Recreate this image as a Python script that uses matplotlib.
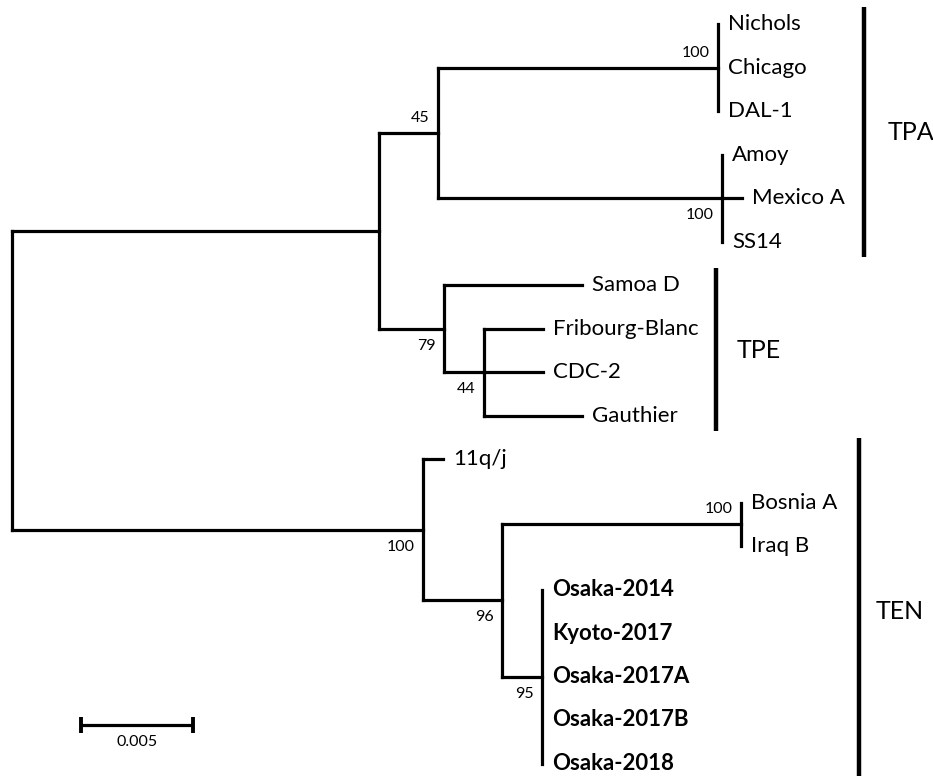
import matplotlib
matplotlib.use("Agg")
import matplotlib.pyplot as plt

plt.rcParams['font.family'] = ['Lato', 'DejaVu Sans']

# leaves, top to bottom
taxa = ["Nichols", "Chicago", "DAL-1", "Amoy", "Mexico A", "SS14",
        "Samoa D", "Fribourg-Blanc", "CDC-2", "Gauthier",
        "11q/j", "Bosnia A", "Iraq B",
        "Osaka-2014", "Kyoto-2017", "Osaka-2017A", "Osaka-2017B", "Osaka-2018"]
bold_taxa = ["Osaka-2014", "Kyoto-2017", "Osaka-2017A", "Osaka-2017B", "Osaka-2018"]

# edges of the tree: child, parent, branch length (substitutions/site)
edge_child = ["tpa_tpe", "tpa", "nichols_grp", "Nichols", "Chicago", "DAL-1",
              "ss14_grp", "Amoy", "Mexico A", "SS14",
              "tpe", "Samoa D", "tpe_sub", "Fribourg-Blanc", "CDC-2", "Gauthier",
              "ten", "11q/j", "ten_sub", "bosnia_grp", "Bosnia A", "Iraq B",
              "osaka_grp", "Osaka-2014", "Kyoto-2017", "Osaka-2017A", "Osaka-2017B", "Osaka-2018"]
edge_parent = ["root", "tpa_tpe", "tpa", "nichols_grp", "nichols_grp", "nichols_grp",
               "tpa", "ss14_grp", "ss14_grp", "ss14_grp",
               "tpa_tpe", "tpe", "tpe", "tpe_sub", "tpe_sub", "tpe_sub",
               "root", "ten", "ten", "ten_sub", "bosnia_grp", "bosnia_grp",
               "ten_sub", "osaka_grp", "osaka_grp", "osaka_grp", "osaka_grp", "osaka_grp"]
edge_length = [0.01638, 0.00263, 0.01250, 0.0, 0.0, 0.0,
               0.01268, 0.0, 0.00089, 0.0,
               0.00290, 0.00616, 0.00179, 0.00263, 0.00263, 0.00438,
               0.01835, 0.00089, 0.00353, 0.01067, 0.0, 0.0,
               0.00179, 0.0, 0.0, 0.0, 0.0, 0.0]

# bootstrap support
support_node = ["tpa", "nichols_grp", "ss14_grp", "tpe", "tpe_sub",
                "ten", "ten_sub", "bosnia_grp", "osaka_grp"]
support_value = [45, 100, 100, 79, 44, 100, 96, 100, 95]
support_above = [True, True, False, False, False, False, False, True, False]

# clades: name, first leaf, last leaf
clade_names = ["TPA", "TPE", "TEN"]
clade_first = ["Nichols", "Samoa D", "11q/j"]
clade_last = ["SS14", "Gauthier", "Osaka-2018"]

scale_length = 0.005

# ---- layout ----
px = 0.005 / 112          # distance units per pixel
fig = plt.figure(figsize=(9.33, 7.76), dpi=100)
ax = fig.add_axes([0, 0, 1, 1])
ax.set_xlim(-12 * px, (933 - 12) * px)
row = 43.5
ax.set_ylim((776 - 24) / row, -24 / row)
ax.axis('off')

lw = 2.3
children = {}
for c, p in zip(edge_child, edge_parent):
    children.setdefault(p, []).append(c)
blen = dict(zip(edge_child, edge_length))

xpos = {"root": 0.0}
def set_x(node):
    for c in children.get(node, []):
        xpos[c] = xpos[node] + blen[c]
        set_x(c)
set_x("root")

ypos = {t: i for i, t in enumerate(taxa)}
def set_y(node):
    if node in ypos:
        return ypos[node]
    ys = [set_y(c) for c in children[node]]
    ypos[node] = (min(ys) + max(ys)) / 2
    return ypos[node]
set_y("root")

# vertical lines at internal nodes
for node, kids in children.items():
    ys = [ypos[c] for c in kids]
    ax.plot([xpos[node], xpos[node]], [min(ys), max(ys)], color='black',
            lw=lw, solid_capstyle='projecting')
# horizontal branches
for c, p in zip(edge_child, edge_parent):
    if blen[c] > 0:
        ax.plot([xpos[p], xpos[c]], [ypos[c], ypos[c]], color='black',
                lw=lw, solid_capstyle='projecting')

# leaf labels
for t in taxa:
    ax.annotate(t, (xpos[t], ypos[t]), xytext=(10, 0), textcoords='offset pixels',
                ha='left', va='center', fontsize=16,
                fontweight='bold' if t in bold_taxa else 'normal')

# support values
for n, v, above in zip(support_node, support_value, support_above):
    ax.annotate(str(v), (xpos[n], ypos[n]), xytext=(-8, 15 if above else -17),
                textcoords='offset pixels', ha='right', va='center', fontsize=11.5)

# clade bars
bar_x = [852 * px, 704 * px, 847 * px]
label_gap = [24, 21, 17]
for name, a, b, bx, gap in zip(clade_names, clade_first, clade_last, bar_x, label_gap):
    y0 = ypos[a] - 0.38
    y1 = ypos[b] + 0.36 if name != "TEN" else ax.get_ylim()[0] + 0.2
    if name == "TEN":
        y0 = ypos[a] - 0.48
    ax.plot([bx, bx], [y0, y1], color='black', lw=3.2, solid_capstyle='butt')
    ax.annotate(name, (bx, (ypos[a] + ypos[b]) / 2), xytext=(gap, 0),
                textcoords='offset pixels', ha='left', va='center', fontsize=18)

# scale bar
sx0 = 69 * px
sy = (725 - 24) / row
ax.plot([sx0, sx0 + scale_length], [sy, sy], color='black', lw=lw, solid_capstyle='butt')
for sx in [sx0, sx0 + scale_length]:
    ax.plot([sx, sx], [sy - 0.18, sy + 0.18], color='black', lw=lw + 0.5, solid_capstyle='butt')
ax.text(sx0 + scale_length / 2, sy + 0.4, "0.005", ha='center', va='center', fontsize=11.5)

plt.savefig("out.png", dpi=100)
plt.close()
